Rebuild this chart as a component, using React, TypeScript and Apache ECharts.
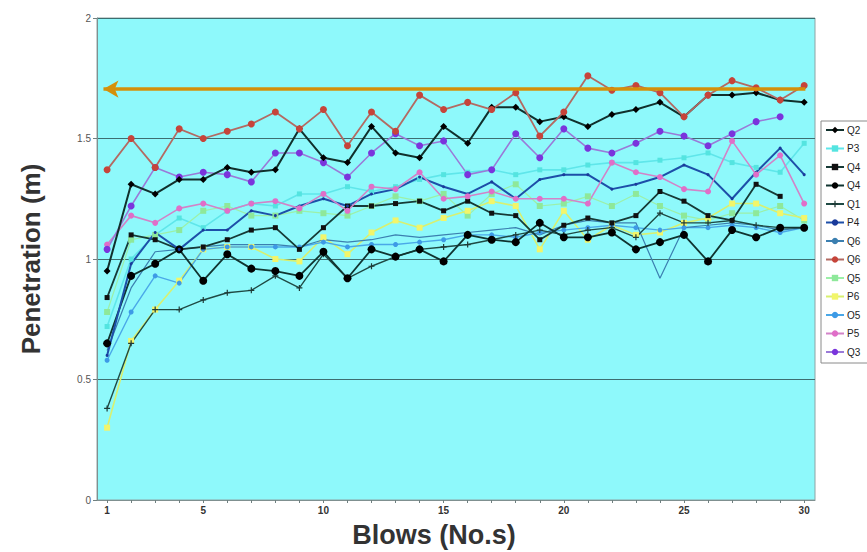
import React, { useEffect, useRef } from "react";
import * as echarts from "echarts";

const blows = [1, 2, 3, 4, 5, 6, 7, 8, 9, 10, 11, 12, 13, 14, 15, 16, 17, 18, 19, 20, 21, 22, 23, 24, 25, 26, 27, 28, 29, 30];
const xLabelValues = [1, 5, 10, 15, 20, 25, 30];
const targetPenetration = 1.705;

const q2 = [0.95, 1.31, 1.27, 1.33, 1.33, 1.38, 1.36, 1.37, 1.54, 1.42, 1.40, 1.55, 1.44, 1.42, 1.55, 1.48, 1.63, 1.63, 1.57, 1.59, 1.55, 1.60, 1.62, 1.65, 1.59, 1.68, 1.68, 1.69, 1.66, 1.65];
const p3 = [0.72, 1.00, 1.10, 1.17, 1.13, 1.20, 1.23, 1.22, 1.27, 1.27, 1.30, 1.28, 1.30, 1.33, 1.35, 1.36, 1.37, 1.35, 1.37, 1.37, 1.39, 1.40, 1.40, 1.41, 1.42, 1.44, 1.40, 1.38, 1.36, 1.48];
const q4a = [0.84, 1.10, 1.08, 1.04, 1.05, 1.08, 1.12, 1.13, 1.04, 1.13, 1.22, 1.22, 1.23, 1.24, 1.20, 1.24, 1.19, 1.18, 1.08, 1.14, 1.17, 1.15, 1.18, 1.28, 1.24, 1.18, 1.16, 1.31, 1.26, null];
const q4b = [0.65, 0.93, 0.98, 1.04, 0.91, 1.02, 0.96, 0.95, 0.93, 1.03, 0.92, 1.04, 1.01, 1.04, 0.99, 1.10, 1.08, 1.07, 1.15, 1.09, 1.09, 1.11, 1.04, 1.07, 1.10, 0.99, 1.12, 1.09, 1.13, 1.13];
const q1 = [0.38, 0.65, 0.79, 0.79, 0.83, 0.86, 0.87, 0.93, 0.88, 1.02, 0.92, 0.97, 1.01, 1.04, 1.05, 1.06, 1.08, 1.10, 1.12, 1.10, 1.12, 1.13, 1.09, 1.19, 1.15, 1.15, 1.16, 1.14, 1.13, 1.13];
const p4 = [0.60, 0.98, 1.11, 1.04, 1.12, 1.12, 1.20, 1.18, 1.22, 1.25, 1.22, 1.27, 1.29, 1.34, 1.30, 1.27, 1.32, 1.25, 1.33, 1.35, 1.35, 1.29, 1.31, 1.34, 1.39, 1.35, 1.25, 1.36, 1.46, 1.35];
const q6a = [0.62, 0.88, 1.03, 1.04, 1.05, 1.06, 1.06, 1.06, 1.05, 1.08, 1.07, 1.08, 1.10, 1.09, 1.10, 1.11, 1.12, 1.13, 1.10, 1.14, 1.16, 1.15, 1.15, 0.92, 1.13, 1.14, 1.15, 1.14, 1.12, 1.13];
const q6b = [1.37, 1.50, 1.38, 1.54, 1.50, 1.53, 1.56, 1.61, 1.54, 1.62, 1.47, 1.61, 1.53, 1.68, 1.62, 1.65, 1.62, 1.69, 1.51, 1.61, 1.76, 1.70, 1.72, 1.69, 1.59, 1.68, 1.74, 1.71, 1.66, 1.72];
const q5 = [0.78, 1.08, 1.10, 1.12, 1.20, 1.22, 1.18, 1.18, 1.20, 1.19, 1.18, 1.22, 1.26, 1.24, 1.27, 1.18, 1.27, 1.31, 1.22, 1.23, 1.26, 1.22, 1.27, 1.22, 1.18, 1.16, 1.19, 1.19, 1.22, 1.16];
const p6 = [0.30, 0.66, 0.79, 0.91, 1.04, 1.05, 1.05, 1.00, 0.99, 1.09, 1.02, 1.11, 1.16, 1.13, 1.17, 1.20, 1.24, 1.22, 1.04, 1.20, 1.08, 1.14, 1.10, 1.11, 1.15, 1.17, 1.23, 1.23, 1.19, 1.17];
const o5 = [0.58, 0.78, 0.93, 0.90, 1.04, 1.05, 1.05, 1.05, 1.05, 1.07, 1.05, 1.06, 1.06, 1.07, 1.08, 1.10, 1.10, 1.09, 1.11, 1.12, 1.13, 1.14, 1.13, 1.12, 1.13, 1.13, 1.14, 1.13, 1.11, 1.13];
const p5 = [1.06, 1.18, 1.15, 1.21, 1.23, 1.20, 1.23, 1.24, 1.21, 1.27, 1.20, 1.30, 1.29, 1.36, 1.25, 1.26, 1.28, 1.25, 1.25, 1.25, 1.23, 1.40, 1.36, 1.34, 1.29, 1.28, 1.49, 1.35, 1.43, 1.23];
const q3 = [1.04, 1.22, 1.38, 1.34, 1.36, 1.35, 1.32, 1.44, 1.44, 1.40, 1.34, 1.44, 1.52, 1.47, 1.49, 1.35, 1.37, 1.52, 1.42, 1.54, 1.46, 1.44, 1.48, 1.53, 1.51, 1.47, 1.52, 1.57, 1.59, null];

const seriesNames = ["Q2", "P3", "Q4a", "Q4b", "Q1", "P4", "Q6a", "Q6b", "Q5", "P6", "O5", "P5", "Q3"];
const legendLabels: Record<string, string> = {
  Q2: "Q2", P3: "P3", Q4a: "Q4", Q4b: "Q4", Q1: "Q1", P4: "P4", Q6a: "Q6", Q6b: "Q6",
  Q5: "Q5", P6: "P6", O5: "O5", P5: "P5", Q3: "Q3",
};

const PLUS = "path://M4,0H6V4H10V6H6V10H4V6H0V4H4Z";

export default function App() {
  const ref = useRef<HTMLDivElement>(null);
  useEffect(() => {
    const chart = echarts.init(ref.current!, null, { renderer: "svg" });
    const mk = (
      name: string,
      values: (number | null)[],
      lineColor: string,
      markColor: string,
      symbol: string,
      size: number,
      width: number,
      extra: any = {}
    ) => ({
      name,
      type: "line",
      data: blows.map((b, i) => [b, values[i]]).filter((d) => d[1] !== null),
      symbol,
      symbolSize: size,
      showSymbol: symbol !== "none",
      lineStyle: { color: lineColor, width },
      itemStyle: { color: markColor, borderWidth: 0 },
      emphasis: { disabled: true },
      ...extra,
    });

    const series = [
      mk("P3", p3, "#5fe6ea", "#54e4e0", "rect", 5, 1.6),
      mk("Q5", q5, "#9cf0a8", "#8ee89a", "rect", 6, 1.2),
      mk("P6", p6, "#d8f070", "#f2f56a", "rect", 6, 1.6),
      mk("O5", o5, "#4aa8e8", "#3d9ae6", "circle", 5, 1.4),
      mk("Q6a", q6a, "#3b7fb0", "#3b7fb0", "none", 0, 1.2),
      mk("Q1", q1, "#1f4a44", "#1f3a36", PLUS, 6, 1.4),
      mk("Q4a", q4a, "#163a36", "#111", "rect", 5, 1.8),
      mk("Q4b", q4b, "#103430", "#000", "circle", 8, 1.8),
      mk("P4", p4, "#1d4fa8", "#1a3a9a", "circle", 3, 2),
      mk("P5", p5, "#d283c8", "#e06ec8", "circle", 6, 1.6),
      mk("Q3", q3, "#9a7ad8", "#7a34dc", "circle", 7, 1.6),
      mk("Q2", q2, "#10302c", "#000", "diamond", 7, 2),
      mk("Q6b", q6b, "#b36a62", "#c6443a", "circle", 7, 1.8, {
        markLine: {
          silent: true,
          symbol: ["none", "arrow"],
          symbolSize: [13, 15],
          lineStyle: { color: "#D4900A", width: 3.5, type: "solid" },
          label: { show: false },
          emphasis: { disabled: true },
          data: [[{ coord: [30.05, targetPenetration] }, { coord: [0.85, targetPenetration] }]],
        },
      }),
    ];

    chart.setOption({
      animation: false,
      backgroundColor: "#ffffff",
      textStyle: { fontFamily: "Liberation Sans, Arial, sans-serif" },
      grid: {
        left: 97, right: 52, top: 18, bottom: 52,
        show: true, backgroundColor: "#8EF9FB", borderColor: "#8fa3a3", borderWidth: 1,
      },
      legend: {
        orient: "vertical",
        left: 821,
        top: 121,
        data: seriesNames,
        formatter: (n: string) => legendLabels[n] ?? n,
        backgroundColor: "#ffffff",
        borderColor: "#8a8a8a",
        borderWidth: 1,
        borderRadius: 0,
        padding: [4, 40, 6, 4],
        itemWidth: 18,
        itemHeight: 8,
        itemGap: 8.5,
        textStyle: { fontSize: 10, color: "#222", padding: [0, 0, 0, -2], lineHeight: 8 },
        selectedMode: false,
      },
      xAxis: {
        type: "value",
        min: 0.58,
        max: 30.45,
        axisLine: { show: true, lineStyle: { color: "#7f9090", width: 1 } },
        axisTick: { show: true, customValues: blows, length: 3, lineStyle: { color: "#6f8080" } },
        axisLabel: { customValues: xLabelValues, fontSize: 10, fontWeight: "bold", color: "#333", margin: 5 },
        splitLine: { show: false },
      },
      yAxis: {
        type: "value",
        min: 0,
        max: 2,
        interval: 0.5,
        axisLine: { show: true, lineStyle: { color: "#7f9090", width: 1 } },
        axisTick: { show: true, length: 4, lineStyle: { color: "#6f8080" } },
        axisLabel: { fontSize: 10, color: "#555", margin: 6, formatter: (v: number) => String(v) },
        splitLine: { show: true, lineStyle: { color: "#3d6e70", width: 1.2 } },
      },
      graphic: [
        {
          type: "text",
          x: 31,
          y: 259,
          rotation: Math.PI / 2,
          style: {
            text: "Penetration (m)",
            fontSize: 26,
            fontWeight: "bold",
            fontFamily: "Liberation Sans, Arial, sans-serif",
            fill: "#333",
            textAlign: "center",
            textVerticalAlign: "middle",
          },
        },
        {
          type: "text",
          x: 434,
          y: 535,
          style: {
            text: "Blows (No.s)",
            fontSize: 27,
            fontWeight: "bold",
            fontFamily: "Liberation Sans, Arial, sans-serif",
            fill: "#333",
            textAlign: "center",
            textVerticalAlign: "middle",
          },
        },
      ],
      series,
    });
    return () => chart.dispose();
  }, []);
  return <div ref={ref} style={{ position: "fixed", left: 0, top: 0, width: 867, height: 552 }} />;
}
